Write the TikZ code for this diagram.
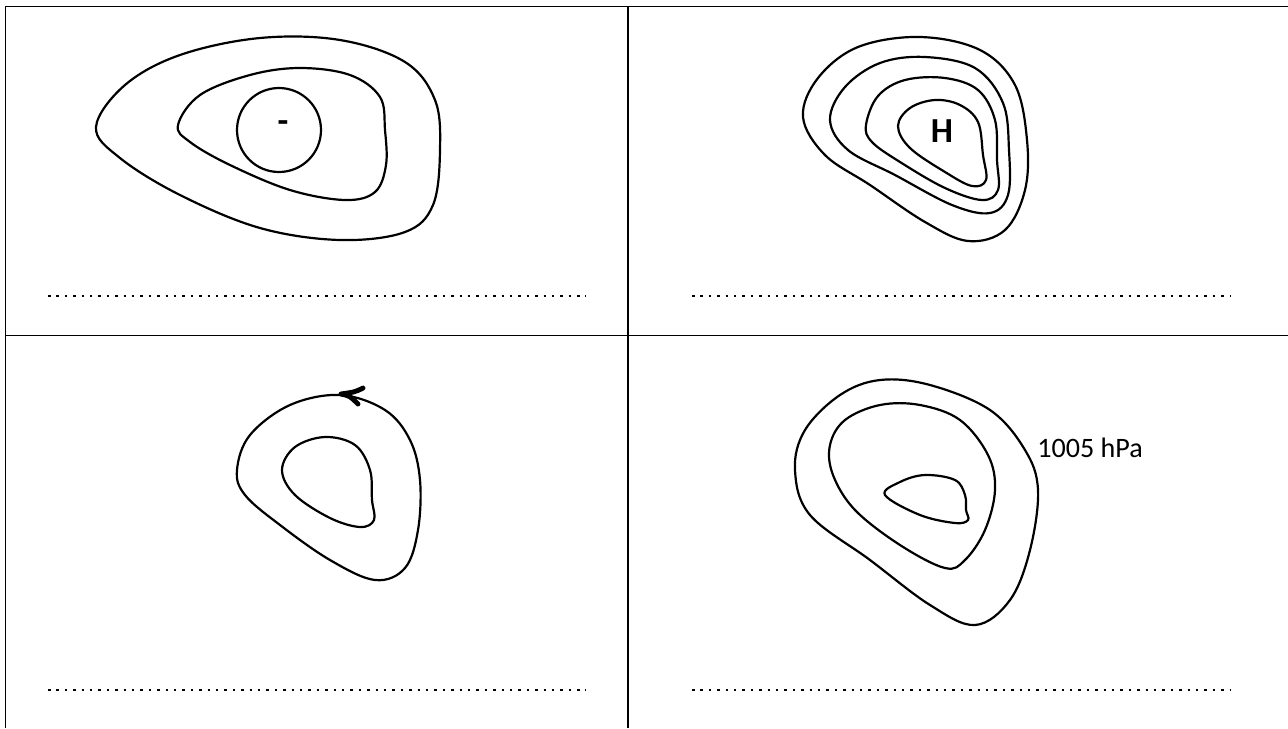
\documentclass[tikz,border=0pt]{standalone}
\usepackage{fontspec}
\setmainfont{Carlito}
\usetikzlibrary{calc}

\begin{document}
\begin{tikzpicture}[
  x=0.02cm,y=-0.02cm,
  grid/.style={line width=1.1pt,black},
  isobar/.style={line width=1.25pt,black},
  answer/.style={line width=0.05cm,dash pattern=on 0.05cm off 0.118cm},
  centre/.style={font=\fontsize{20}{24}\selectfont\bfseries,inner sep=0pt},
  every node/.style={font=\fontsize{16}{19}\selectfont}
]
  \useasboundingbox (0,0) rectangle (1288,728);

  % table
  \draw[grid] (5.5,728) -- (5.5,6.5) -- (1288,6.5);
  \draw[grid] (5.5,335.5) -- (1288,335.5);
  \draw[grid] (628,6.5) -- (628,728);

  % answer lines
  \draw[answer] (48,296) -- (586,296);
  \draw[answer] (692,296) -- (1230,296);
  \draw[answer] (48,690) -- (586,690);
  \draw[answer] (692,690) -- (1230,690);

  % top left
  \draw[isobar] plot[smooth cycle,tension=0.6] coordinates {
    (96,127) (125,85) (180,55) (260,38) (340,40) (405,62) (435,100)
    (440,150) (433,205) (405,232) (340,240) (260,228) (180,195) (120,158)};
  \draw[isobar] plot[smooth cycle,tension=0.6] coordinates {
    (178,125) (200,95) (250,75) (300,68) (350,75) (380,97) (385,130)
    (386,165) (375,192) (345,200) (290,190) (230,165) (190,142)};
  \draw[isobar] (279,130) circle[radius=42];
  \node[centre] (low) at (283,127) {-};

  % top right
  \draw[isobar] plot[smooth cycle,tension=0.6] coordinates {
    (803,117) (818,78) (858,47) (920,37) (980,50) (1015,85) (1027,140)
    (1025,190) (1005,230) (968,241) (925,222) (870,185) (825,155)};
  \draw[isobar] plot[smooth cycle,tension=0.6] coordinates {
    (830,120) (845,87) (880,63) (925,57) (975,68) (1003,103) (1009,150)
    (1008,195) (990,213) (952,205) (895,175) (848,150)};
  \draw[isobar] plot[smooth cycle,tension=0.6] coordinates {
    (866,125) (878,96) (905,80) (945,78) (978,90) (995,120) (997,160)
    (998,190) (982,200) (945,188) (900,162) (872,142)};
  \draw[isobar] plot[smooth cycle,tension=0.6] coordinates {
    (898,126) (910,108) (935,100) (960,105) (978,122) (983,155)
    (986,180) (972,186) (945,172) (910,148)};
  \node[centre] (high) at (942,131) {H};

  % bottom left
  \draw[isobar] plot[smooth cycle,tension=0.6] coordinates {
    (237,470) (250,435) (290,405) (340,395) (385,410) (410,440) (420,480)
    (418,530) (405,568) (375,580) (330,560) (280,525) (245,495)};
  \draw[isobar] plot[smooth cycle,tension=0.6] coordinates {
    (282,470) (295,447) (325,437) (355,445) (370,470) (372,500)
    (374,520) (360,527) (330,518) (295,495)};
  \coordinate (tip) at (341,394);
  \draw[line width=2.8pt,line cap=round,line join=round]
    (363,388) .. controls (355,392) .. (tip) .. controls (350,396) .. (358,404);

  % bottom right
  \draw[isobar] plot[smooth cycle,tension=0.6] coordinates {
    (795,470) (805,430) (840,395) (880,380) (930,385) (990,410) (1025,450)
    (1038,490) (1030,550) (1010,600) (975,625) (930,605) (870,560) (810,515)};
  \draw[isobar] plot[smooth cycle,tension=0.6] coordinates {
    (830,445) (845,420) (880,405) (920,405) (960,420) (988,455) (995,490)
    (985,530) (965,560) (945,568) (900,545) (855,510) (833,475)};
  \draw[isobar] plot[smooth cycle,tension=0.6] coordinates {
    (885,495) (900,482) (925,475) (955,480) (965,495) (966,510)
    (968,520) (955,523) (920,515)};
  \node[anchor=base west,inner sep=0pt] (value) at (1037,457) {1005 hPa};
\end{tikzpicture}
\end{document}
